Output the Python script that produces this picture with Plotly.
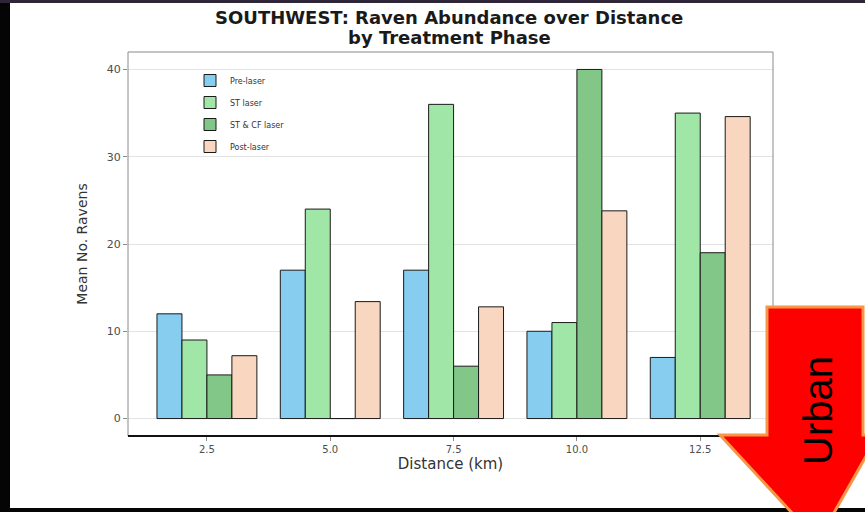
import plotly.graph_objects as go

# ---- data ----
distances = ["2.5", "5.0", "7.5", "10.0", "12.5"]
phases = ["Pre-laser", "ST laser", "ST & CF laser", "Post-laser"]
pre_laser = [12, 17, 17, 10, 7]
st_laser = [9, 24, 36, 11, 35]
st_cf_laser = [5, 0, 6, 40, 19]
post_laser = [7.2, 13.4, 12.8, 23.8, 34.6]
y_ticks = [0, 10, 20, 30, 40]

series = [pre_laser, st_laser, st_cf_laser, post_laser]
colors = ["#86cdf0", "#9fe6a7", "#82c788", "#f8d6bf"]

W, H = 865, 512
L, R, T, B = 128, 773, 52, 436  # panel edges in pixels


def px(x):
    return (x - L) / (R - L)


def py(y):
    return 1 - (y - T) / (B - T)


fig = go.Figure()
for name, vals, col in zip(phases, series, colors):
    fig.add_trace(go.Bar(
        x=distances, y=vals, name=name, legendgroup=name,
        marker=dict(color=col, line=dict(color="#1a1a1a", width=1)),
    ))

shapes = []
# slide background stripes
shapes.append(dict(type="rect", xref="paper", yref="paper", x0=px(0), x1=px(10), y0=py(0), y1=py(H),
                   fillcolor="#050505", line=dict(width=0), layer="below"))
shapes.append(dict(type="rect", xref="paper", yref="paper", x0=px(0), x1=px(W), y0=py(0), y1=py(3),
                   fillcolor="#2e2638", line=dict(width=0), layer="below"))
shapes.append(dict(type="rect", xref="paper", yref="paper", x0=px(0), x1=px(W), y0=py(508), y1=py(H),
                   fillcolor="#050505", line=dict(width=0), layer="below"))
# panel border (grey)
shapes.append(dict(type="rect", xref="paper", yref="paper", x0=0, x1=1, y0=0, y1=1,
                   line=dict(color="#8a8a8a", width=1), fillcolor="rgba(0,0,0,0)", layer="above"))
# bottom axis line (black)
shapes.append(dict(type="line", xref="paper", yref="paper", x0=0, x1=1, y0=0, y1=0,
                   line=dict(color="#111111", width=2), layer="above"))
# red "Urban" arrow
pts = [(767, 307), (863, 307), (863, 435), (878, 435), (818, 541), (720, 435), (767, 435)]
path = "M " + " L ".join(f"{px(a):.5f},{py(b):.5f}" for a, b in pts) + " Z"
shapes.append(dict(type="path", xref="paper", yref="paper", path=path,
                   fillcolor="#ff0000", line=dict(color="#f79646", width=3), layer="above"))

title_font = dict(family="DejaVu Sans", size=18, color="#1a1a1a")

fig.update_layout(
    width=W, height=H,
    margin=dict(l=L, r=W - R, t=T, b=H - B, pad=0),
    paper_bgcolor="white", plot_bgcolor="white",
    barmode="group", bargap=0.19, bargroupgap=0,
    font=dict(family="DejaVu Sans", color="#333333"),
    xaxis=dict(
        type="category", range=[-0.64, 4.59],
        showgrid=False, zeroline=False, showline=False,
        ticks="outside", ticklen=4, tickcolor="#8a8a8a",
        tickfont=dict(size=10, color="#4d4d4d"),
        title=dict(text="Distance (km)", font=dict(size=15, color="#333333"), standoff=3),
    ),
    yaxis=dict(
        range=[-2, 42], tickvals=y_ticks,
        showgrid=True, gridcolor="#e3e3e3", gridwidth=1,
        zeroline=False, showline=False,
        ticks="outside", ticklen=4, tickcolor="#8a8a8a",
        tickfont=dict(size=11, color="#4d4d4d"),
        title=dict(text="Mean No. Ravens", font=dict(size=14, color="#333333"), standoff=15),
    ),
    legend=dict(
        x=px(190), y=py(66), xanchor="left", yanchor="top",
        bgcolor="rgba(0,0,0,0)", font=dict(size=8, color="#333333"),
        itemwidth=30, tracegroupgap=3,
    ),
    shapes=shapes,
    annotations=[
        dict(
            text="<b>SOUTHWEST: Raven Abundance over Distance</b>",
            xref="paper", yref="paper", x=px(449), y=py(18),
            xanchor="center", yanchor="middle", showarrow=False, font=title_font,
        ),
        dict(
            text="<b>by Treatment Phase</b>",
            xref="paper", yref="paper", x=px(449), y=py(37),
            xanchor="center", yanchor="middle", showarrow=False, font=title_font,
        ),
        dict(
            text="Urban", xref="paper", yref="paper", x=px(818), y=py(410),
            xanchor="center", yanchor="middle", textangle=-90, showarrow=False,
            font=dict(family="Liberation Sans", size=40, color="#000000"),
        ),
    ],
)

fig.write_html(
    "out.html",
    config={"displayModeBar": False},
    post_script="document.body.style.margin='0';document.body.style.overflow='hidden';",
)
